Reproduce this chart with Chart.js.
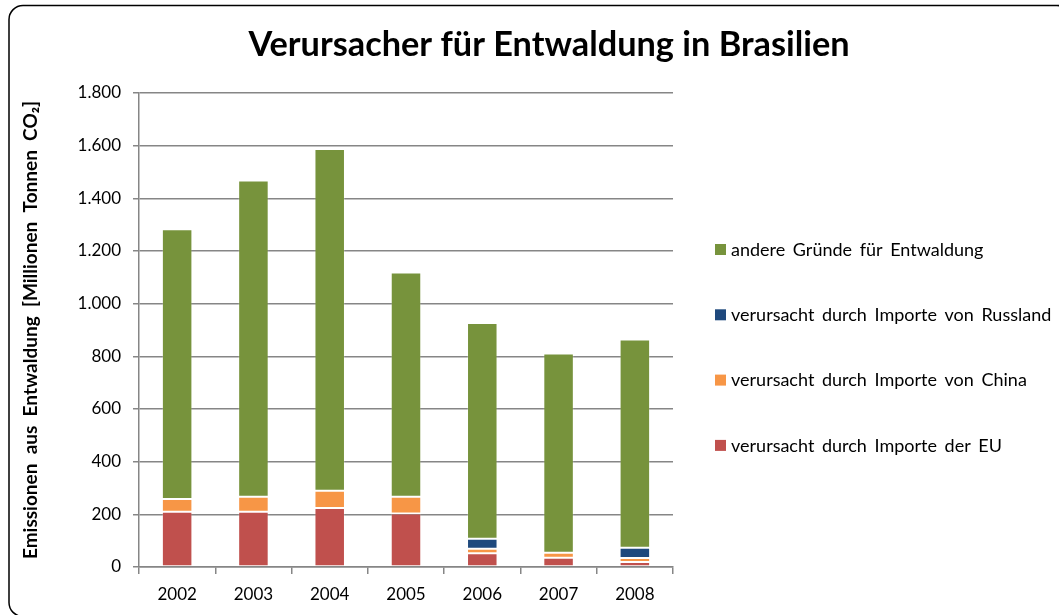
<!DOCTYPE html>
<html>
<head>
<meta charset="utf-8">
<script src="https://cdn.jsdelivr.net/npm/chart.js@4"></script>
<style>
  html, body { margin: 0; padding: 0; background: #fff; overflow: hidden; }
  canvas { display: block; }
</style>
</head>
<body>
<canvas id="chart" width="1059" height="615"></canvas>
<script>
// Jahre (Kategorien)
const years = ['2002', '2003', '2004', '2005', '2006', '2007', '2008'];

// Werte in Millionen Tonnen CO2
const euImports = [210, 210, 224, 203, 52, 35, 19];
const chinaImports = [48, 57, 66, 64, 17, 19, 15];
const russiaImports = [0, 0, 0, 0, 38, 0, 39];
const otherReasons = [1025, 1201, 1297, 851, 820, 757, 791];

const seriesLabels = [
    'verursacht durch Importe der EU',
    'verursacht durch Importe von China',
    'verursacht durch Importe von Russland',
    'andere Gründe für Entwaldung'
];
const seriesColors = ['#C0504D', '#F79646', '#1F497D', '#77933C'];
const chartTitle = 'Verursacher für Entwaldung in Brasilien';

const FONT = 'Lato, "Open Sans", sans-serif';
const GRID = '#868686';

// Zahlen mit Punkt als Tausendertrenner
function formatTick(v) {
    return String(v).replace(/\B(?=(\d{3})+(?!\d))/g, '.');
}

// Rahmen, Titel und Legende selbst zeichnen (wie im Excel-Diagramm)
const frameAndLegend = {
    id: 'frameAndLegend',
    afterDraw(chart) {
        const ctx = chart.ctx;
        const area = chart.chartArea;
        ctx.save();

        // abgerundeter Rahmen
        ctx.strokeStyle = '#000';
        ctx.lineWidth = 1.5;
        ctx.beginPath();
        ctx.roundRect(9, 5.5, 1062, 611, 14);
        ctx.stroke();

        // Titel
        ctx.fillStyle = '#000';
        ctx.font = 'bold 34.3px ' + FONT;
        ctx.textAlign = 'center';
        ctx.textBaseline = 'middle';
        ctx.fillText(chartTitle, 549, 45);

        // Legende in umgekehrter Reihenfolge
        const items = chart.data.datasets.slice().reverse();
        ctx.font = '18px ' + FONT;
        ctx.wordSpacing = '3px';
        ctx.textAlign = 'left';
        items.forEach((ds, i) => {
            const y = 249 + i * 65.3;
            ctx.fillStyle = ds.backgroundColor;
            ctx.fillRect(area.right + 42, y - 5, 11, 11);
            ctx.fillStyle = '#000';
            ctx.fillText(ds.label, area.right + 58, y + 1);
        });
        ctx.restore();
    }
};

const datasets = [euImports, chinaImports, russiaImports, otherReasons].map((values, i) => ({
    label: seriesLabels[i],
    data: values,
    backgroundColor: seriesColors[i],
    borderColor: 'rgba(255,255,255,0.2)',
    borderWidth: 1,
    borderSkipped: false,
    barPercentage: 0.4,
    categoryPercentage: 1.0
}));

new Chart(document.getElementById('chart').getContext('2d'), {
    type: 'bar',
    data: { labels: years, datasets: datasets },
    plugins: [frameAndLegend],
    options: {
        responsive: false,
        animation: false,
        layout: { padding: { left: 0, right: 386, top: 93, bottom: 0 } },
        plugins: {
            legend: { display: false },
            tooltip: { enabled: false },
            title: { display: false }
        },
        scales: {
            x: {
                stacked: true,
                afterFit(scale) { scale.height = 48; },
                grid: {
                    offset: true,
                    drawOnChartArea: false,
                    drawTicks: true,
                    tickLength: 7,
                    color: GRID,
                    lineWidth: 1.5
                },
                border: { color: GRID, width: 1.5 },
                ticks: {
                    color: '#000',
                    padding: 10,
                    font: { family: FONT, size: 17 }
                }
            },
            y: {
                stacked: true,
                min: 0,
                max: 1800,
                afterFit(scale) { scale.width = 139; },
                grid: {
                    color: GRID,
                    lineWidth: 1.5,
                    drawTicks: true,
                    tickLength: 6
                },
                border: { color: GRID, width: 1.5 },
                ticks: {
                    stepSize: 200,
                    color: '#000',
                    padding: 12,
                    font: { family: FONT, size: 17 },
                    callback: (v) => formatTick(v)
                },
                title: {
                    display: true,
                    text: 'Emissionen  aus  Entwaldung  [Millionen  Tonnen  CO₂]',
                    color: '#000',
                    font: { family: FONT, size: 19, weight: 'bold' },
                    padding: { top: 19, bottom: 0 }
                }
            }
        }
    }
});
</script>
</body>
</html>
